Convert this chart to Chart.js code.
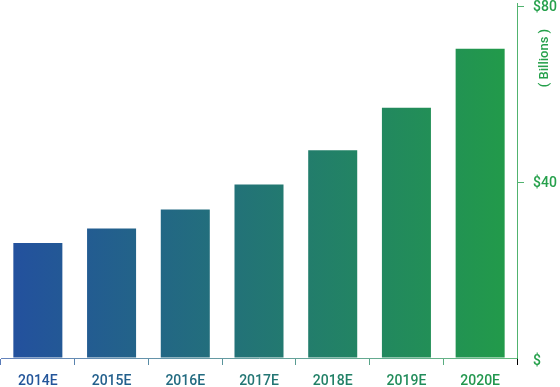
<!DOCTYPE html>
<html>
<head>
<meta charset="utf-8">
<script src="https://cdn.jsdelivr.net/npm/chart.js@4/dist/chart.umd.min.js"></script>
<style>
  html, body { margin: 0; padding: 0; background: #fff; }
  #wrap { width: 560px; height: 387px; }
</style>
</head>
<body>
<div id="wrap"><canvas id="c"></canvas></div>
<script>
// Values, in $ billions
const categories = ["2014E", "2015E", "2016E", "2017E", "2018E", "2019E", "2020E"];
const marketSize = [26.2, 29.5, 33.8, 39.5, 47.3, 57.0, 70.4];
const yTicks     = [0, 40, 80];

const startRGB = [35, 79, 160];   // blue on the left
const endRGB   = [34, 156, 72];   // green on the right
const green    = "#25a04b";

function mix(t, alpha) {
  const c = startRGB.map((v, i) => Math.round(v + (endRGB[i] - v) * t));
  return `rgba(${c[0]},${c[1]},${c[2]},${alpha})`;
}

function areaGradient(chart, alpha) {
  const a = chart.chartArea;
  if (!a) return mix(0, alpha);
  const g = chart.ctx.createLinearGradient(a.left, 0, a.right, 0);
  g.addColorStop(0, mix(0, alpha));
  g.addColorStop(1, mix(1, alpha));
  return g;
}

// right-hand tick labels and the rotated "( Billions )"
// drawn by hand so they don't push the chart area down
const yLabels = {
  id: "yLabels",
  afterDraw(chart) {
    const y = chart.scales.y;
    const ctx = chart.ctx;
    ctx.save();
    ctx.font = "500 14px Roboto";
    ctx.fillStyle = green;
    ctx.textAlign = "left";
    ctx.textBaseline = "middle";
    yTicks.forEach(v => {
      const py = y.getPixelForValue(v) + (v === 0 ? 3 : 1);
      ctx.fillText(v === 0 ? "$" : "$" + v, y.left + 16, py);
    });
    ctx.translate(y.left + 28, chart.chartArea.top + 55);
    ctx.rotate(-Math.PI / 2);
    ctx.font = "500 13px Roboto";
    ctx.textAlign = "center";
    ctx.fillText("( Billions )", 0, 0);
    ctx.restore();
  }
};

const chart = new Chart(document.getElementById("c"), {
  type: "bar",
  data: {
    labels: categories,
    datasets: [{
      data: marketSize,
      backgroundColor: ctx => areaGradient(ctx.chart, 1),
      borderWidth: 0,
      barPercentage: 0.665,
      categoryPercentage: 1
    }]
  },
  options: {
    responsive: true,
    maintainAspectRatio: false,
    animation: false,
    layout: { padding: { left: 1, top: 3, right: 0, bottom: 0 } },
    plugins: { legend: { display: false }, tooltip: { enabled: false } },
    scales: {
      x: {
        offset: true,
        grid: {
          offset: true,
          drawOnChartArea: false,
          drawTicks: true,
          tickLength: 7,
          color: ctx => mix(Math.min(ctx.index / 7, 1), 0.75)
        },
        border: { display: true, color: mix(0.5, 0.7), width: 1 },
        ticks: {
          padding: 8,
          font: { family: "Roboto", size: 14, weight: "500" },
          color: ctx => mix((ctx.index + 0.5) / 7, 1)
        },
        afterFit: s => { s.height = 29; }
      },
      y: {
        position: "right",
        min: 0,
        max: 80.84,
        afterBuildTicks: s => { s.ticks = yTicks.map(v => ({ value: v })); },
        grid: {
          drawOnChartArea: false,
          drawTicks: true,
          tickLength: 7,
          color: ctx => (ctx.tick && ctx.tick.value === 0) ? "rgba(0,0,0,0)" : "rgba(37,160,75,0.8)"
        },
        border: { display: true, color: "rgba(37,160,75,0.8)", width: 1 },
        ticks: { display: false },
        afterFit: s => { s.width = 43; }
      }
    }
  },
  plugins: [yLabels]
});

// the x axis line carries the same left-to-right blend as the bars
chart.options.scales.x.border.color = areaGradient(chart, 0.7);
chart.update("none");
</script>
</body>
</html>
